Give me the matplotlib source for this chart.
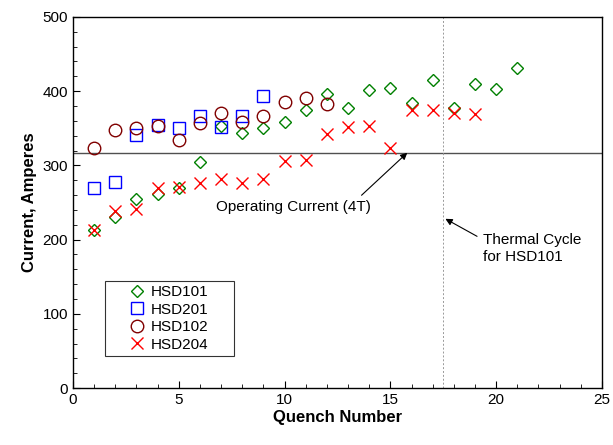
import numpy as np
import matplotlib
matplotlib.use('Agg')
import matplotlib.pyplot as plt
from matplotlib.ticker import MultipleLocator

plt.rcParams['font.family'] = ['Liberation Sans', 'DejaVu Sans']

# quench data
hsd101 = [213, 230, 255, 262, 270, 304, 353, 343, 351, 358, 375, 396,
          377, 402, 404, 384, 415, 377, 409, 403, 431]
hsd201 = [270, 277, 341, 354, 350, 366, 352, 367, 393]
hsd102 = [323, 348, 351, 353, 334, 357, 370, 359, 366, 385, 391, 382]
hsd204 = [213, 238, 241, 269, 271, 276, 282, 276, 281, 306, 307, 342,
          352, 353, 324, 375, 375, 370, 369]

operating_current = 317
thermal_cycle_x = 17.5


def quench_numbers(vals):
    return np.arange(1, len(vals) + 1)


fig = plt.figure(figsize=(6.13, 4.45), dpi=100)
ax = fig.add_axes([0.119, 0.128, 0.863, 0.834])

ax.axhline(operating_current, color='#505050', lw=1.0, zorder=1)
ax.axvline(thermal_cycle_x, color='#999999', lw=0.7, ls=(0, (2, 2)), zorder=1)

ax.plot(quench_numbers(hsd101), hsd101, ls='none', marker='D', ms=6.5,
        mfc='none', mec='#008000', mew=1.0, label='HSD101')
ax.plot(quench_numbers(hsd201), hsd201, ls='none', marker='s', ms=8.5,
        mfc='none', mec='#0000ff', mew=1.0, label='HSD201')
ax.plot(quench_numbers(hsd102), hsd102, ls='none', marker='o', ms=9,
        mfc='none', mec='#800000', mew=1.0, label='HSD102')
ax.plot(quench_numbers(hsd204), hsd204, ls='none', marker='x', ms=8.5,
        mec='#ff0000', mew=1.0, label='HSD204')

ax.set_xlim(0, 25)
ax.set_ylim(0, 500)
ax.xaxis.set_major_locator(MultipleLocator(5))
ax.xaxis.set_minor_locator(MultipleLocator(1))
ax.yaxis.set_major_locator(MultipleLocator(100))
ax.yaxis.set_minor_locator(MultipleLocator(20))
ax.tick_params(which='both', direction='in', top=False, right=False,
               labelsize=11)
ax.tick_params(which='major', length=5)
ax.tick_params(which='minor', length=3)
for s in ax.spines.values():
    s.set_linewidth(1.0)

ax.set_xlabel('Quench Number', fontsize=12, fontweight='bold', labelpad=2)
ax.set_ylabel('Current, Amperes', fontsize=12, fontweight='bold')

ax.annotate('Operating Current (4T)', xy=(15.8, operating_current),
            xytext=(10.4, 244), ha='center', va='center', fontsize=11,
            arrowprops=dict(arrowstyle='-|>', color='black', lw=0.8,
                            shrinkA=2, shrinkB=0, mutation_scale=10,
                            relpos=(0.91, 1.0)))
ax.annotate('Thermal Cycle\nfor HSD101', xy=(17.6, 228),
            xytext=(19.4, 188), ha='left', va='center', fontsize=11,
            linespacing=1.25,
            arrowprops=dict(arrowstyle='-|>', color='black', lw=0.8,
                            shrinkA=3, shrinkB=0, mutation_scale=10,
                            relpos=(0, 0.78)))

# legend box stretched to the width of the original
leg = ax.legend(loc='lower left', bbox_to_anchor=(0.06, 0.086, 0.244, 0.2),
                mode='expand', borderaxespad=0, fontsize=11, frameon=True,
                fancybox=False, edgecolor='black', borderpad=0.3,
                handletextpad=-0.9, labelspacing=0.22, handlelength=3.6)
leg.get_frame().set_linewidth(0.8)

fig.savefig('out.png', dpi=100)
